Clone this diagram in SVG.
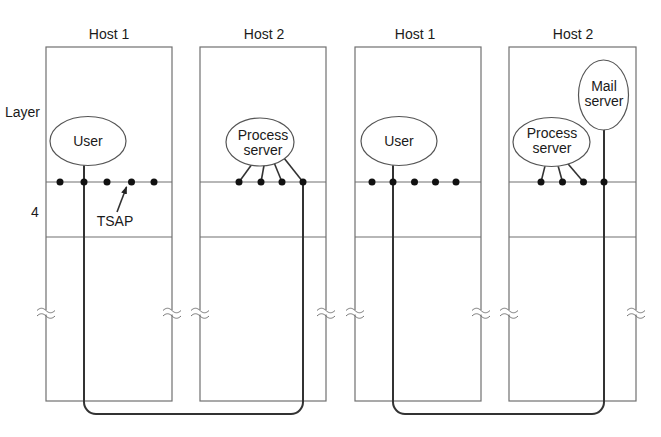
<svg xmlns="http://www.w3.org/2000/svg" width="661" height="437" viewBox="0 0 661 437">
<style>
.box{fill:none;stroke:#707070;stroke-width:1.2}
.sep{stroke:#707070;stroke-width:1.2}
.ell{fill:#fff;stroke:#555;stroke-width:1.2}
.conn{fill:none;stroke:#333;stroke-width:2}
.lnk{stroke:#333;stroke-width:1.6}
.dot{fill:#111}
.brk{fill:none;stroke:#777;stroke-width:1}
text{font-family:"Liberation Sans",Arial,sans-serif;font-size:14px;fill:#1a1a1a}
.c{text-anchor:middle}
</style>
<defs>
<g id="brk">
<rect x="-2" y="-2" width="4" height="4.5" fill="#fff"/>
<path class="brk" d="M-9,-1.5 c3,-3 6,-3 9,0 s6,3 9,0"/>
<path class="brk" d="M-9,4 c3,-3 6,-3 9,0 s6,3 9,0"/>
</g>
<marker id="ah" markerWidth="8" markerHeight="8" refX="7" refY="4" orient="auto" markerUnits="userSpaceOnUse">
<path d="M0,1 L8,4 L0,7 Z" fill="#222"/>
</marker>
</defs>
<rect width="661" height="437" fill="#fff"/>

<g id="host1a">
<rect class="box" x="46" y="47" width="126" height="354"/>
<line class="sep" x1="46" y1="182" x2="172" y2="182"/>
<line class="sep" x1="46" y1="237" x2="172" y2="237"/>
<use href="#brk" x="46" y="312"/>
<use href="#brk" x="172" y="312"/>
<text class="c" x="109" y="39">Host 1</text>
</g>
<g id="host2a">
<rect class="box" x="200" y="47" width="126" height="354"/>
<line class="sep" x1="200" y1="182" x2="326" y2="182"/>
<line class="sep" x1="200" y1="237" x2="326" y2="237"/>
<use href="#brk" x="200" y="312"/>
<use href="#brk" x="326" y="312"/>
<text class="c" x="264" y="39">Host 2</text>
</g>
<g id="host1b">
<rect class="box" x="355" y="47" width="126" height="354"/>
<line class="sep" x1="355" y1="182" x2="481" y2="182"/>
<line class="sep" x1="355" y1="237" x2="481" y2="237"/>
<use href="#brk" x="355" y="312"/>
<use href="#brk" x="481" y="312"/>
<text class="c" x="415" y="39">Host 1</text>
</g>
<g id="host2b">
<rect class="box" x="509" y="47" width="127" height="354"/>
<line class="sep" x1="509" y1="182" x2="636" y2="182"/>
<line class="sep" x1="509" y1="237" x2="636" y2="237"/>
<use href="#brk" x="509" y="312"/>
<use href="#brk" x="636" y="312"/>
<text class="c" x="573" y="39">Host 2</text>
</g>

<g id="labels">
<text x="5" y="117">Layer</text>
<text x="31" y="217">4</text>
<text class="c" x="115" y="226">TSAP</text>
<line class="lnk" x1="117" y1="212" x2="126.5" y2="187" stroke-width="1.2" marker-end="url(#ah)"/>
</g>

<g id="connectors">
<path class="conn" d="M84,160 V402 a12,12 0 0 0 12,12 H291 a12,12 0 0 0 12,-12 V182"/>
<path class="conn" d="M393,160 V402 a12,12 0 0 0 12,12 H592 a12,12 0 0 0 12,-12 V125"/>
<line class="lnk" x1="255" y1="160" x2="239" y2="182"/>
<line class="lnk" x1="265" y1="160" x2="261" y2="182"/>
<line class="lnk" x1="273" y1="160" x2="282" y2="182"/>
<line class="lnk" x1="280" y1="153" x2="303" y2="182"/>
<line class="lnk" x1="546.5" y1="160" x2="541" y2="182"/>
<line class="lnk" x1="556.5" y1="160" x2="562.5" y2="182"/>
<line class="lnk" x1="563" y1="158" x2="583.5" y2="182"/>
</g>

<g id="user1">
<ellipse class="ell" cx="88" cy="141" rx="38" ry="24.5"/>
<text class="c" x="88" y="146">User</text>
</g>
<g id="proc1">
<ellipse class="ell" cx="260" cy="142" rx="34" ry="24"/>
<text class="c" x="263" y="140">Process</text>
<text class="c" x="263" y="155">server</text>
</g>
<g id="user2">
<ellipse class="ell" cx="399" cy="141" rx="38" ry="24.5"/>
<text class="c" x="399" y="146">User</text>
</g>
<g id="proc2">
<ellipse class="ell" cx="551.5" cy="142" rx="38.5" ry="24.5"/>
<text class="c" x="552" y="138">Process</text>
<text class="c" x="552" y="153">server</text>
</g>
<g id="mail">
<ellipse class="ell" cx="603.5" cy="95" rx="25" ry="35"/>
<text class="c" x="604" y="91">Mail</text>
<text class="c" x="604" y="106">server</text>
</g>

<g id="dots">
<circle class="dot" cx="60" cy="182" r="3.5"/>
<circle class="dot" cx="84" cy="182" r="3.5"/>
<circle class="dot" cx="107" cy="182" r="3.5"/>
<circle class="dot" cx="131.5" cy="182" r="3.5"/>
<circle class="dot" cx="154" cy="182" r="3.5"/>
<circle class="dot" cx="239" cy="182" r="3.5"/>
<circle class="dot" cx="261" cy="182" r="3.5"/>
<circle class="dot" cx="282" cy="182" r="3.5"/>
<circle class="dot" cx="303" cy="182" r="3.5"/>
<circle class="dot" cx="372" cy="182" r="3.5"/>
<circle class="dot" cx="393" cy="182" r="3.5"/>
<circle class="dot" cx="414.5" cy="182" r="3.5"/>
<circle class="dot" cx="435.5" cy="182" r="3.5"/>
<circle class="dot" cx="456" cy="182" r="3.5"/>
<circle class="dot" cx="541" cy="182" r="3.5"/>
<circle class="dot" cx="562.5" cy="182" r="3.5"/>
<circle class="dot" cx="583.5" cy="182" r="3.5"/>
<circle class="dot" cx="604" cy="182" r="3.5"/>
</g>
</svg>
